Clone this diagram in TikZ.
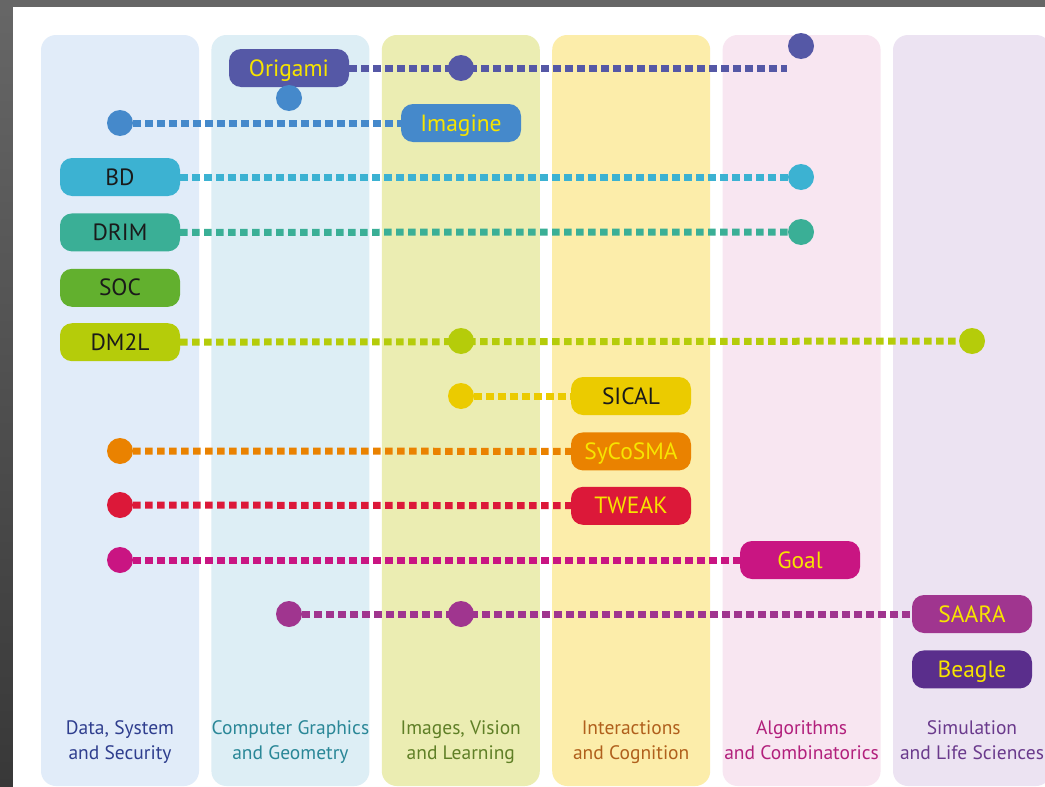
\documentclass[tikz,border=0pt]{standalone}
\usepackage{fontspec}
\setmainfont{PT Sans}
\usetikzlibrary{positioning}
\definecolor{frame}{HTML}{666666}
\definecolor{frameDark}{HTML}{383838}
\definecolor{colA}{HTML}{E1ECF9}
\definecolor{colB}{HTML}{DDEEF5}
\definecolor{colC}{HTML}{EBEDB2}
\definecolor{colD}{HTML}{FCEDAA}
\definecolor{colE}{HTML}{F8E6F1}
\definecolor{colF}{HTML}{ECE3F2}
\definecolor{titA}{HTML}{2F3E8E}
\definecolor{titB}{HTML}{2A8797}
\definecolor{titC}{HTML}{5F7F26}
\definecolor{titD}{HTML}{B0601C}
\definecolor{titE}{HTML}{B2207C}
\definecolor{titF}{HTML}{6A3A8C}
\definecolor{ink}{HTML}{1A1A1A}
\definecolor{gold}{HTML}{F7E400}
\definecolor{origami}{HTML}{5558A6}
\definecolor{imagine}{HTML}{4589CB}
\definecolor{bd}{HTML}{3CB2D2}
\definecolor{drim}{HTML}{3AAF96}
\definecolor{soc}{HTML}{62B02E}
\definecolor{dml}{HTML}{B5CC0A}
\definecolor{sical}{HTML}{EBCB00}
\definecolor{sycosma}{HTML}{EA8200}
\definecolor{tweak}{HTML}{DC1839}
\definecolor{goal}{HTML}{C91582}
\definecolor{saara}{HTML}{A0358F}
\definecolor{beagle}{HTML}{5A2E8C}

\begin{document}
\begin{tikzpicture}[x=1pt,y=-1pt,
    team/.style={rounded corners=12pt,minimum width=120pt,minimum height=38pt,inner sep=0pt,text height=21pt,text depth=5pt,font=\fontsize{23.5}{26}\selectfont},
    pin/.style={circle,minimum size=26pt,inner sep=0pt},
    link/.style={line width=7pt,dash pattern=on 7.5pt off 4.5pt},
    area/.style={anchor=base,inner sep=0pt,font=\fontsize{19.5}{25}\selectfont}]
        \useasboundingbox (0,0) rectangle (1045,787);
        \fill[frame] (0,0) rectangle (1045,787);
        \shade[top color=frame,bottom color=frameDark] (0,7) rectangle (13,787);
        \fill[white] (13,7) rectangle (1045,787);
        % research columns
        \foreach \i/\col/\tcol/\top/\bot in {0/colA/titA/{Data, System}/{and Security},1/colB/titB/{Computer Graphics}/{and Geometry},2/colC/titC/{Images, Vision}/{and Learning},3/colD/titD/{Interactions}/{and Cognition},4/colE/titE/{Algorithms}/{and Combinatorics},5/colF/titF/{Simulation}/{and Life Sciences}}{
          \fill[\col,rounded corners=15pt] (41+\i*170.4,35) rectangle ++(158,751);
          \node[area,text=\tcol] (area\i) at (120+\i*170.4,734) {\top};
          \node[area,text=\tcol] (areaB\i) at (120+\i*170.4,759) {\bot};}
        % teams
        \node[team,fill=origami,text=gold] (origami) at (289,68) {Origami};
        \node[team,fill=imagine,text=gold] (imagine) at (461,123) {Imagine};
        \node[team,fill=bd,text=ink] (bd) at (120,177) {BD};
        \node[team,fill=drim,text=ink,below=17pt of bd] (drim) {DRIM};
        \node[team,fill=soc,text=ink,below=17pt of drim] (soc) {SOC};
        \node[team,fill=dml,text=ink,below=16pt of soc] (dml) {DM2L};
        \node[team,fill=sical,text=ink] (sical) at (631,396) {SICAL};
        \node[team,fill=sycosma,text=gold,below=17pt of sical] (sycosma) {SyCoSMA};
        \node[team,fill=tweak,text=gold,below=16pt of sycosma] (tweak) {TWEAK};
        \node[team,fill=goal,text=gold] (goal) at (800,560) {Goal};
        \node[team,fill=saara,text=gold] (saara) at (972,614) {SAARA};
        \node[team,fill=beagle,text=gold,below=17pt of saara] (beagle) {Beagle};
        % end points
        \coordinate (origamiEnd) at (787,68);
        \node[pin,fill=origami] (origamiTop) at (801,46) {};
        \node[pin,fill=imagine] (imagineUp) at (289,98) {};
        \node[pin,fill=imagine] (imagineEnd) at (120,123) {};
        \node[pin,fill=bd] (bdEnd) at (801,177) {};
        \node[pin,fill=drim] (drimEnd) at (801,232) {};
        \node[pin,fill=dml] (dmlEnd) at (972,341) {};
        \node[pin,fill=sical] (sicalEnd) at (461,396) {};
        \node[pin,fill=sycosma] (sycosmaEnd) at (120,451) {};
        \node[pin,fill=tweak] (tweakEnd) at (120,505) {};
        \node[pin,fill=goal] (goalEnd) at (120,560) {};
        \node[pin,fill=saara] (saaraEnd) at (289,614) {};
        % links
        \draw[link,origami] (origami) -- (origamiEnd);
        \draw[link,imagine] (imagineEnd) -- (imagine);
        \draw[link,bd] (bd) -- (bdEnd);
        \draw[link,drim] (drim) -- (drimEnd);
        \draw[link,dml] (dml) -- (dmlEnd);
        \draw[link,sical] (sicalEnd) -- (sical);
        \draw[link,sycosma] (sycosmaEnd) -- (sycosma);
        \draw[link,tweak] (tweakEnd) -- (tweak);
        \draw[link,goal] (goalEnd) -- (goal);
        \draw[link,saara] (saaraEnd) -- (saara);
        % points on the links
        \node[pin,fill=origami] (origamiMid) at (461,68) {};
        \node[pin,fill=dml] (dmlMid) at (461,341) {};
        \node[pin,fill=saara] (saaraMid) at (461,614) {};
      \end{tikzpicture}
\end{document}
